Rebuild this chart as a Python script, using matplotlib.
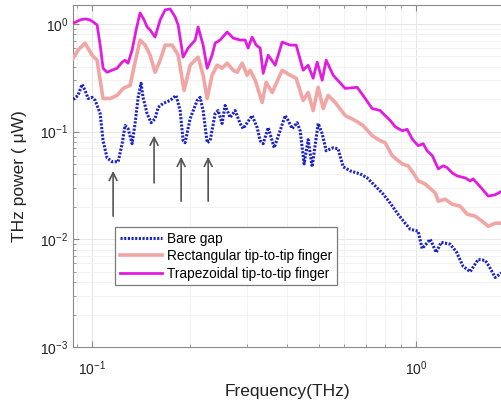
import numpy as np
import matplotlib
matplotlib.use('Agg')
import matplotlib.pyplot as plt

plt.rcParams['font.family'] = ['Liberation Sans', 'DejaVu Sans']
plt.rcParams['mathtext.fontset'] = 'custom'
plt.rcParams['mathtext.rm'] = 'Liberation Sans'

############################################
# measured THz power spectra (frequency in THz, power in uW)
f_bare = [0.0874, 0.0905, 0.0931, 0.0951, 0.0972, 0.1, 0.1022, 0.1059, 0.1081, 0.1112,
          0.1153, 0.1203, 0.1238, 0.1264, 0.1291, 0.1329, 0.1357, 0.1387, 0.1416, 0.1436,
          0.1478, 0.1521, 0.1564, 0.1599, 0.1656, 0.1741, 0.1816, 0.1869, 0.1909, 0.1936,
          0.2007, 0.2110, 0.2154, 0.2201, 0.2265, 0.2313, 0.2397, 0.2448, 0.2518, 0.2573,
          0.2667, 0.2763, 0.2862, 0.2924, 0.3010, 0.3118, 0.3231, 0.3301, 0.3372, 0.3494,
          0.3646, 0.3803, 0.3942, 0.4027, 0.4144, 0.4293, 0.4385, 0.4510, 0.4642, 0.4775,
          0.4984, 0.5128, 0.5275, 0.5545, 0.5743, 0.5953, 0.6256, 0.6717, 0.7060, 0.7313,
          0.7579, 0.7909, 0.8315, 0.8790, 0.9247, 0.9583, 1.014, 1.043, 1.105, 1.153,
          1.195, 1.273, 1.329, 1.396, 1.468, 1.553, 1.633, 1.680, 1.753, 1.842]
p_bare = [0.199, 0.217, 0.275, 0.242, 0.203, 0.208, 0.195, 0.147, 0.0824, 0.0571,
          0.0525, 0.0525, 0.0773, 0.114, 0.1067, 0.0773, 0.119, 0.208, 0.281, 0.208,
          0.147, 0.121, 0.132, 0.168, 0.183, 0.195, 0.217, 0.157, 0.0824, 0.0789,
          0.132, 0.195, 0.208, 0.157, 0.0789, 0.0824, 0.147, 0.157, 0.119, 0.175,
          0.135, 0.157, 0.119, 0.1067, 0.121, 0.141, 0.109, 0.0824, 0.0773, 0.109,
          0.0708, 0.102, 0.141, 0.127, 0.1067, 0.121, 0.102, 0.0502, 0.0842, 0.0471,
          0.119, 0.0958, 0.0664, 0.0708, 0.0693, 0.0471, 0.0432, 0.0405, 0.0372, 0.0334,
          0.0300, 0.0263, 0.0217, 0.0171, 0.0141, 0.0124, 0.0119, 0.0082, 0.0100, 0.00756,
          0.00938, 0.0090, 0.0077, 0.0056, 0.0050, 0.0065, 0.00637, 0.0056, 0.00442, 0.00492]

f_rect = [0.0874, 0.0905, 0.0951, 0.1, 0.1036, 0.1059, 0.1081, 0.1137, 0.1194, 0.1247,
          0.1310, 0.1357, 0.1406, 0.1457, 0.1510, 0.1564, 0.1622, 0.1680, 0.1766, 0.1843,
          0.1922, 0.2007, 0.2124, 0.2201, 0.2265, 0.2345, 0.2431, 0.2518, 0.2610, 0.2724,
          0.2803, 0.2904, 0.3010, 0.3074, 0.3186, 0.3348, 0.3444, 0.3595, 0.3858, 0.4085,
          0.4263, 0.4479, 0.4642, 0.4809, 0.4984, 0.5164, 0.5350, 0.5623, 0.6039, 0.6482,
          0.6856, 0.7313, 0.7743, 0.8024, 0.8434, 0.9054, 0.9447, 0.9931, 1.014, 1.066,
          1.145, 1.170, 1.229, 1.291, 1.367, 1.437, 1.521, 1.599, 1.668, 1.753, 1.842]
p_rect = [0.481, 0.572, 0.664, 0.513, 0.461, 0.300, 0.203, 0.203, 0.217, 0.252,
          0.269, 0.442, 0.709, 0.636, 0.513, 0.356, 0.461, 0.636, 0.636, 0.513,
          0.242, 0.414, 0.492, 0.334, 0.203, 0.334, 0.414, 0.388, 0.432, 0.372,
          0.356, 0.432, 0.334, 0.372, 0.300, 0.187, 0.287, 0.231, 0.372, 0.334,
          0.313, 0.195, 0.231, 0.157, 0.258, 0.164, 0.217, 0.187, 0.141, 0.127,
          0.114, 0.0918, 0.0824, 0.0789, 0.0597, 0.0502, 0.0481, 0.0388, 0.0348, 0.0327,
          0.0269, 0.0226, 0.0236, 0.0212, 0.0203, 0.0171, 0.0164, 0.0147, 0.0132, 0.0141, 0.0141]

f_trap = [0.0874, 0.0892, 0.0918, 0.0951, 0.0986, 0.1007, 0.1036, 0.1059, 0.1081, 0.1112,
          0.1153, 0.1194, 0.1238, 0.1264, 0.1291, 0.1329, 0.1367, 0.1406, 0.1447, 0.1478,
          0.1510, 0.1564, 0.1622, 0.1680, 0.1741, 0.1804, 0.1843, 0.1909, 0.1978, 0.2080,
          0.2124, 0.2201, 0.2265, 0.2345, 0.2397, 0.2483, 0.2610, 0.2724, 0.2862, 0.2967,
          0.3030, 0.3118, 0.3208, 0.3301, 0.3372, 0.3494, 0.3672, 0.3858, 0.4085, 0.4263,
          0.4479, 0.4642, 0.4809, 0.4948, 0.5128, 0.5275, 0.5545, 0.6039, 0.6577, 0.6856,
          0.7313, 0.7743, 0.8024, 0.8315, 0.8614, 0.9054, 0.9380, 0.9721, 1.014, 1.051,
          1.081, 1.122, 1.170, 1.211, 1.244, 1.291, 1.338, 1.416, 1.468, 1.499, 1.599,
          1.668, 1.753, 1.842]
p_trap = [1.022, 1.044, 1.090, 1.114, 1.090, 1.044, 0.979, 0.636, 0.388, 0.356,
          0.372, 0.388, 0.442, 0.461, 0.432, 0.572, 0.879, 1.267, 1.090, 0.937,
          0.879, 0.756, 1.090, 1.351, 1.380, 1.163, 0.979, 0.492, 0.597, 0.709,
          0.937, 0.636, 0.388, 0.513, 0.664, 0.709, 0.842, 0.740, 0.709, 0.709,
          0.597, 0.756, 0.636, 0.597, 0.348, 0.513, 0.414, 0.679, 0.636, 0.636,
          0.372, 0.414, 0.313, 0.442, 0.300, 0.461, 0.334, 0.252, 0.258, 0.217,
          0.164, 0.157, 0.141, 0.127, 0.111, 0.102, 0.105, 0.0855, 0.0740, 0.0773,
          0.0664, 0.0597, 0.0451, 0.0481, 0.0465, 0.0414, 0.0388, 0.0372, 0.0348, 0.0364,
          0.0293, 0.0252, 0.0259, 0.0281]

# absorption dips marked with arrows: (frequency, arrow tip, arrow tail)
arrow_f = [0.1161, 0.1553, 0.1882, 0.2281]
arrow_tip = [0.0432, 0.0918, 0.0584, 0.0584]
arrow_tail = [0.0164, 0.0334, 0.0226, 0.0226]
############################################

fig = plt.figure(figsize=(5.02, 4.03), dpi=100)
ax = fig.add_axes([0.1454, 0.139, 0.8546, 0.8486])

ax.loglog(f_bare, p_bare, color='#1c22c8', linestyle=(0, (0.7, 0.5)), linewidth=2.2,
          label='Bare gap', zorder=4)
ax.loglog(f_rect, p_rect, color='#f2a5a5', linestyle='-', linewidth=2.6,
          label='Rectangular tip-to-tip finger', zorder=3)
ax.loglog(f_trap, p_trap, color='#e21be0', linestyle='-', linewidth=2.0,
          label='Trapezoidal tip-to-tip finger', zorder=3)

for xf, tip, tail in zip(arrow_f, arrow_tip, arrow_tail):
    ax.annotate('', xy=(xf, tip), xytext=(xf, tail),
                arrowprops=dict(arrowstyle='->', color='#555555', lw=1.2,
                                mutation_scale=14, shrinkA=0, shrinkB=0))

ax.set_xlim(0.0873, 1.84)
ax.set_ylim(1e-3, 1.5)

ax.grid(True, which='major', color='#e6e6e6', linewidth=0.7)
ax.grid(True, which='minor', color='#f0f0f0', linewidth=0.6)
ax.set_axisbelow(True)

for side in ['left', 'bottom', 'top']:
    ax.spines[side].set_color('#8a8a8a')
ax.spines['right'].set_visible(False)
ax.tick_params(which='both', direction='in', top=True, right=False,
               colors='#8a8a8a', labelcolor='#222222', labelsize=10)
ax.tick_params(which='major', length=4)
ax.tick_params(which='minor', length=2)
ax.tick_params(axis='x', pad=9)

ax.set_xlabel('Frequency(THz)', fontsize=12.5, color='#222222', labelpad=4)
ax.set_ylabel('THz power ( μW)', fontsize=12.5, color='#222222', labelpad=9)

leg = ax.legend(loc='upper left', bbox_to_anchor=(0.098, 0.351), borderaxespad=0,
                fontsize=9.8, handlelength=3.1, handletextpad=0.4,
                labelspacing=0.25, borderpad=0.35, fancybox=False, framealpha=1)
leg.get_frame().set_edgecolor('#7a7a7a')
leg.get_frame().set_linewidth(0.9)

plt.savefig('out.png', dpi=100)
